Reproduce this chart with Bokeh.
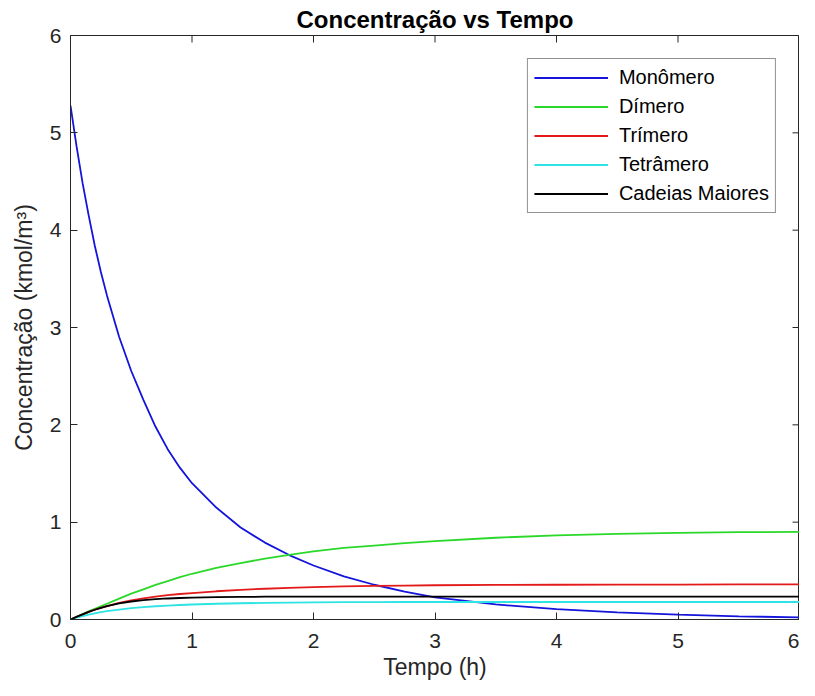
import math
from bokeh.plotting import figure
from bokeh.models import Range1d, FixedTicker
from bokeh.embed import file_html
from bokeh.resources import INLINE

# ---- data ----
tempo = [0.0, 0.05, 0.1, 0.15, 0.2, 0.25, 0.3, 0.4, 0.5, 0.6, 0.7, 0.8, 0.9,
         1.0, 1.2, 1.4, 1.6, 1.8, 2.0, 2.25, 2.5, 2.75, 3.0, 3.5, 4.0, 4.5,
         5.0, 5.5, 6.0]
monomero = [5.28, 4.86, 4.48, 4.15, 3.84, 3.57, 3.33, 2.905, 2.553, 2.257,
            1.98, 1.75, 1.56, 1.40, 1.15, 0.945, 0.79, 0.662, 0.555, 0.444,
            0.357, 0.287, 0.228, 0.155, 0.106, 0.074, 0.05, 0.033, 0.021]
dimero = [0.0, 0.028, 0.056, 0.083, 0.11, 0.136, 0.162, 0.215, 0.265, 0.31,
          0.355, 0.395, 0.435, 0.47, 0.53, 0.58, 0.625, 0.665, 0.70, 0.735,
          0.76, 0.785, 0.805, 0.84, 0.865, 0.88, 0.89, 0.897, 0.90]
trimero = [0.0, 0.027, 0.053, 0.078, 0.10, 0.12, 0.138, 0.17, 0.197, 0.218,
           0.236, 0.25, 0.262, 0.272, 0.29, 0.305, 0.316, 0.325, 0.333, 0.34,
           0.345, 0.349, 0.352, 0.355, 0.357, 0.358, 0.359, 0.36, 0.36]
tetramero = [0.0, 0.018, 0.035, 0.05, 0.063, 0.075, 0.085, 0.102, 0.116,
             0.127, 0.136, 0.143, 0.149, 0.154, 0.162, 0.167, 0.171, 0.174,
             0.176, 0.178, 0.179, 0.18, 0.18, 0.18, 0.18, 0.18, 0.18, 0.18,
             0.18]
cadeias = [0.0, 0.027, 0.053, 0.078, 0.10, 0.12, 0.137, 0.165, 0.185, 0.199,
           0.209, 0.216, 0.221, 0.225, 0.23, 0.232, 0.234, 0.235, 0.235,
           0.235, 0.235, 0.235, 0.235, 0.235, 0.235, 0.235, 0.235, 0.235,
           0.235]

series_names = ["Monômero", "Dímero", "Trímero", "Tetrâmero", "Cadeias Maiores"]
series_values = [monomero, dimero, trimero, tetramero, cadeias]
series_colors = ["#1414dc", "#2ad82a", "#e31a1a", "#2ee3e3", "#000000"]

x_ticks = [0, 1, 2, 3, 4, 5, 6]
y_ticks = [0, 1, 2, 3, 4, 5, 6]

FONT = "Liberation Sans"
AX = "#262626"

p = figure(frame_width=729, frame_height=584, output_backend="svg",
           toolbar_location=None,
           x_range=Range1d(x_ticks[0], x_ticks[-1]),
           y_range=Range1d(y_ticks[0], y_ticks[-1]),
           min_border_left=70, min_border_right=0, min_border_top=29,
           min_border_bottom=67, title="Concentração vs Tempo")

p.background_fill_color = "white"
p.border_fill_color = "white"
p.outline_line_color = AX
p.outline_line_width = 1
p.xgrid.visible = False
p.ygrid.visible = False

p.title.align = "center"
p.title.text_font = FONT
p.title.text_font_size = "24px"
p.title.text_font_style = "bold"
p.title.text_color = "#000000"
p.title.standoff = 6

for ax, ticks in ((p.xaxis[0], x_ticks), (p.yaxis[0], y_ticks)):
    ax.ticker = FixedTicker(ticks=ticks)
    ax.major_tick_in = 7
    ax.major_tick_out = 0
    ax.minor_tick_line_color = None
    ax.axis_line_color = AX
    ax.major_tick_line_color = AX
    ax.major_label_text_font = FONT
    ax.major_label_text_font_size = "21px"
    ax.major_label_text_color = AX
    ax.axis_label_text_font = FONT
    ax.axis_label_text_font_size = "23px"
    ax.axis_label_text_font_style = "normal"
    ax.axis_label_text_color = AX

p.xaxis.axis_label = "Tempo (h)"
p.yaxis.axis_label = "Concentração (kmol/m³)"
p.xaxis.major_label_standoff = 14
p.xaxis.axis_label_standoff = 3
p.yaxis.major_label_standoff = 9
p.yaxis.axis_label_standoff = 10

for name, vals, col in zip(series_names, series_values, series_colors):
    p.line(tempo, vals, line_color=col, line_width=1.8, legend_label=name)

# inward tick marks on the top and right edges of the box
p.ray(x=x_ticks, y=[y_ticks[-1]] * len(x_ticks), length=7, length_units="screen",
      angle=-math.pi / 2, line_color=AX, line_width=1)
p.ray(x=[x_ticks[-1]] * len(y_ticks), y=y_ticks, length=7, length_units="screen",
      angle=math.pi, line_color=AX, line_width=1)

lg = p.legend[0]
lg.location = "top_right"
lg.margin = 23
lg.border_line_color = AX
lg.border_line_width = 1
lg.background_fill_color = "white"
lg.background_fill_alpha = 1
lg.label_text_font = FONT
lg.label_text_font_size = "20px"
lg.label_text_color = "#000000"
lg.glyph_width = 74
lg.glyph_height = 25
lg.label_height = 25
lg.spacing = 4
lg.padding = 6
lg.label_standoff = 11

open("out.html", "w").write(file_html(p, INLINE))
